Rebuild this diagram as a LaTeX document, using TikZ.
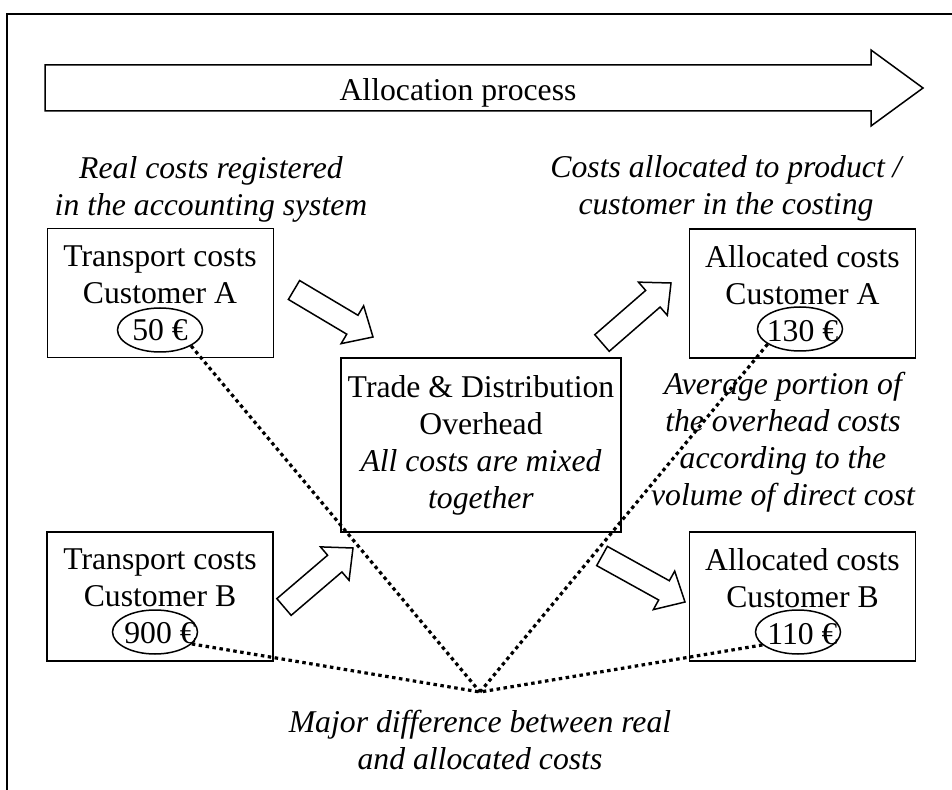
\documentclass[tikz,border=0pt]{standalone}
\usepackage{fontspec}
\setmainfont{Liberation Serif}
\usetikzlibrary{shapes.geometric,calc}
\newcommand{\blockarrow}[2]{%
  \coordinate (#2-base) at ($(#2)!12pt!(#1)$);
  \draw[blockarr] ($(#1)!5.5pt!90:(#2)$) -- ($(#2-base)!5.5pt!-90:(#1)$)
    -- ($(#2-base)!11pt!-90:(#1)$) -- (#2) -- ($(#2-base)!11pt!90:(#1)$)
    -- ($(#2-base)!5.5pt!90:(#1)$) -- ($(#1)!5.5pt!-90:(#2)$) -- cycle;}

\begin{document}
\begin{tikzpicture}[x=0.5pt,y=-0.5pt,
    every node/.style={font=\fontsize{15.85}{18.5}\selectfont,align=center},
    costbox/.style={draw,line width=0.9pt,minimum width=113pt,minimum height=64.5pt,inner sep=0pt},
    amount/.style={ellipse,draw,line width=0.75pt,minimum width=42.5pt,minimum height=22pt,inner sep=0pt},
    note/.style={font=\fontsize{15.85}{18.5}\selectfont\itshape},
    blockarr/.style={draw,line width=0.75pt,fill=white,line join=miter},
    gapline/.style={line width=1.6pt,dash pattern=on 1.75pt off 1.75pt}]
  \useasboundingbox (0,0) rectangle (952,790);
  % frame
  \draw[line width=0.8pt] (7,790) -- (7,14) -- (952,14);

  % allocation process arrow
  \draw[blockarr] (45,65) -- (871,65) -- (871,50) -- (923,88) -- (871,126) -- (871,111) -- (45,111) -- cycle;
  \node (process) at (458,93) {Allocation process};

  % headings
  \node[note] (realnote) at (211,189) {Real costs registered\\in the accounting system};
  \node[note] (allocnote) at (726,188) {Costs allocated to product /\\customer in the costing};

  % boxes
  \node[costbox,line width=0.5pt] (transA) at (160,293.5) {Transport costs\\Customer A\\50 €};
  \node[costbox] (transB) at (160,596.5) {Transport costs\\Customer B\\900 €};
  \node[costbox] (allocA) at (802.5,293.5) {Allocated costs\\Customer A\\130 €};
  \node[costbox] (allocB) at (802.5,596.5) {Allocated costs\\Customer B\\110 €};
  \node[draw,line width=0.9pt,minimum width=140pt,minimum height=87pt,inner sep=0pt] (overhead) at (481,445)
    {Trade \& Distribution\\Overhead\\\textit{All costs are mixed}\\\textit{together}};

  % amounts
  \node[amount] (amtA) at (160,330) {};
  \node[amount] (amtB) at (155,632) {};
  \node[amount] (amtAA) at (800,329) {};
  \node[amount] (amtAB) at (798,632) {};

  \node[note] (avgnote) at (783,442) {Average portion of\\the overhead costs\\according to the\\volume of direct cost};
  \node[note] (diffnote) at (480,740) {Major difference between real\\and allocated costs};

  % block arrows
  \coordinate (fromA) at (294,290);  \coordinate (intoA) at (373,337);
  \coordinate (fromB) at (284,607);  \coordinate (intoB) at (353,548);
  \coordinate (outA) at (602,343);   \coordinate (toA) at (671,283);
  \coordinate (outB) at (602,556);   \coordinate (toB) at (685,602);
  \blockarrow{fromA}{intoA}
  \blockarrow{fromB}{intoB}
  \blockarrow{outA}{toA}
  \blockarrow{outB}{toB}

  % differences
  \coordinate (meet) at (480,692);
  \draw[gapline] (amtA.-27) -- (meet);
  \draw[gapline] (amtAA.-155) -- (meet);
  \draw[gapline] (amtB.-18) -- (meet);
  \draw[gapline] (amtAB.-160) -- (meet);
\end{tikzpicture}
\end{document}
